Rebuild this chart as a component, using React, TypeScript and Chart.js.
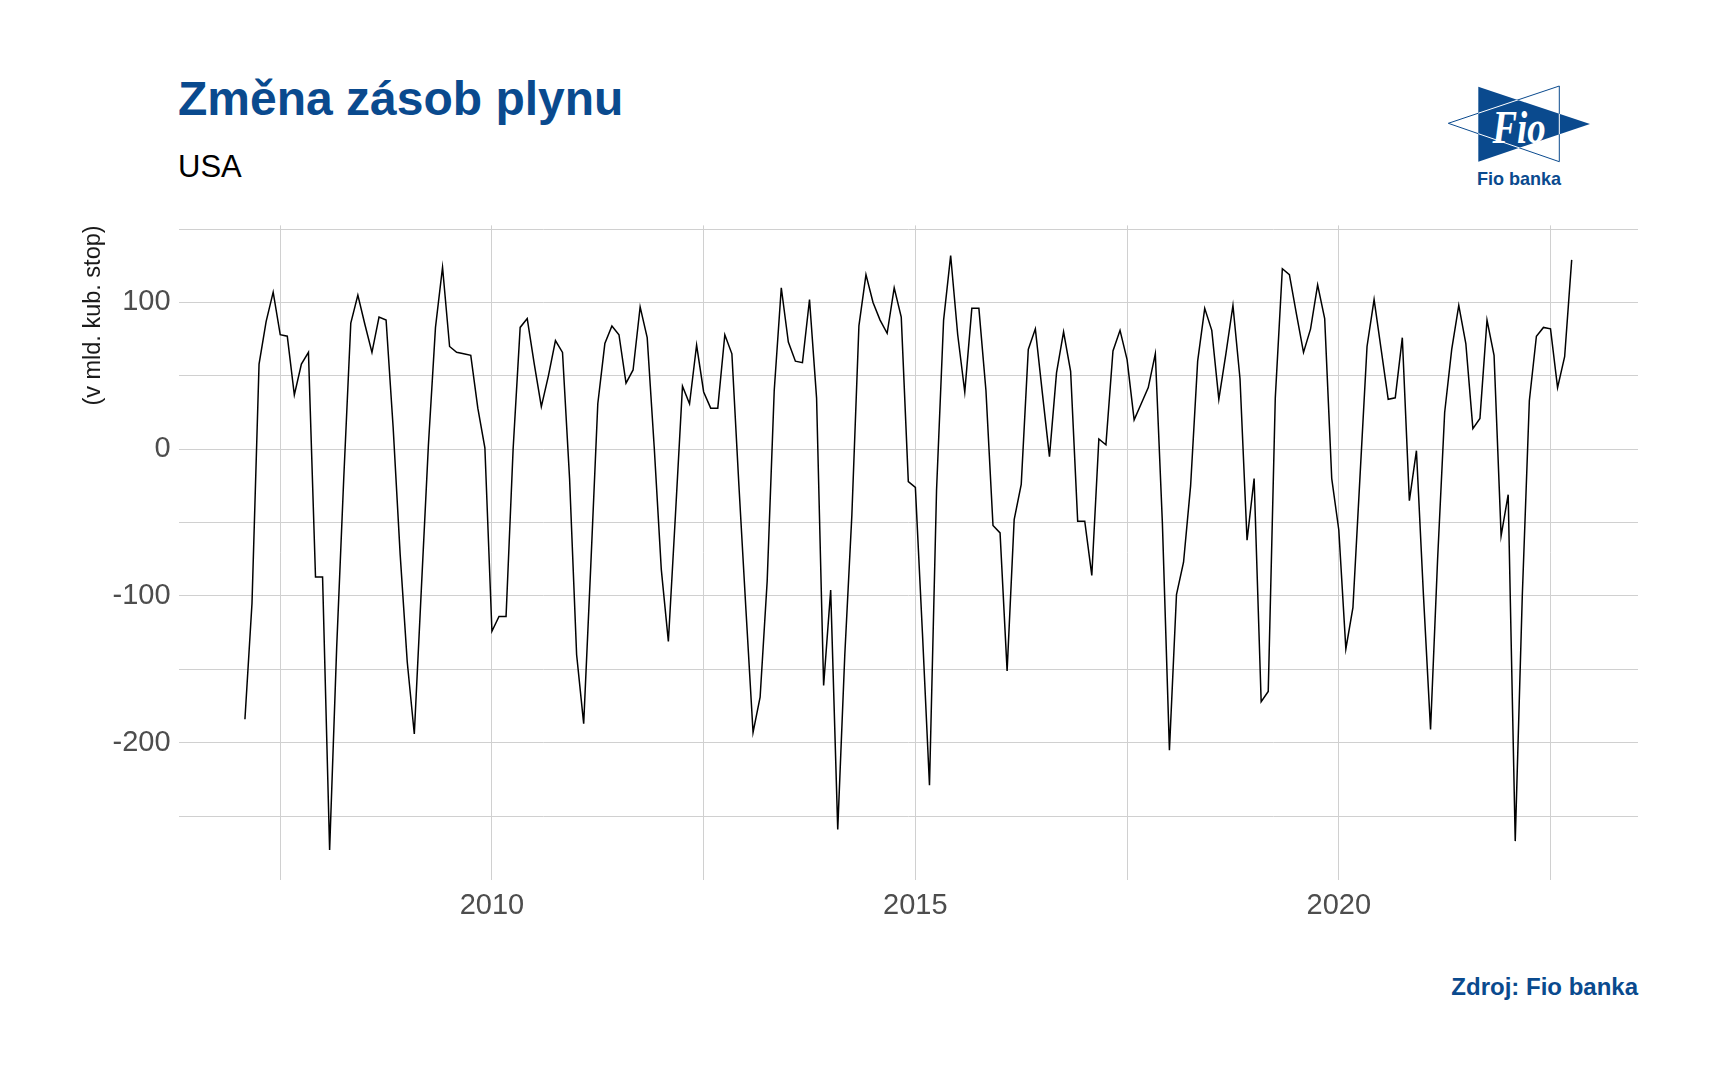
import React, { useEffect, useRef } from "react";
import { Chart, registerables } from "chart.js";

Chart.register(...registerables);

const TITLE = "Změna zásob plynu";
const SUBTITLE = "USA";
const Y_TITLE = "(v mld. kub. stop)";
const CAPTION = "Zdroj: Fio banka";
const LOGO_TEXT = "Fio";
const LOGO_CAPTION = "Fio banka";

// Monthly change of US natural gas storage (bcf), series starts February 2007
const START_MONTH_2007 = 2;
const change2007 = [-184, -105, 58, 87, 107, 78, 77, 37, 58, 66, -87];
const change2008 = [-87, -273, -135, -20, 86, 105, 85, 66, 90, 88, 15, -72];
const change2009 = [-145, -194, -95, 3, 83, 124, 70, 66, 65, 64, 28, 1];
const change2010 = [-124, -114, -114, 0, 83, 89, 58, 29, 50, 74, 66, -20];
const change2011 = [-140, -187, -80, 31, 72, 84, 78, 45, 54, 97, 76, 1];
const change2012 = [-82, -131, -45, 43, 31, 71, 39, 28, 28, 78, 65, -25];
const change2013 = [-110, -193, -169, -90, 40, 110, 73, 60, 59, 102, 35, -161];
const change2014 = [-96, -259, -140, -45, 84, 119, 100, 88, 79, 110, 90, -22];
const change2015 = [-26, -125, -229, -28, 88, 132, 78, 39, 96, 96, 40, -52];
const change2016 = [-57, -151, -48, -24, 68, 82, 38, -5, 52, 80, 53, -49];
const change2017 = [-49, -86, 7, 3, 67, 81, 61, 20, 31, 42, 65, -50];
const change2018 = [-205, -99, -77, -25, 60, 96, 81, 34, 65, 98, 48, -62];
const change2019 = [-20, -172, -165, 35, 123, 119, 92, 66, 82, 112, 89, -20];
const change2020 = [-55, -136, -108, -19, 70, 102, 68, 34, 35, 76, -35, -1];
const change2021 = [-100, -191, -75, 25, 68, 98, 72, 14, 21, 88, 64, -59];
const change2022 = [-31, -267, -100, 33, 77, 83, 82, 42, 63, 129];

const yearSeries: [number, number, number[]][] = [
  [2007, START_MONTH_2007, change2007],
  [2008, 1, change2008],
  [2009, 1, change2009],
  [2010, 1, change2010],
  [2011, 1, change2011],
  [2012, 1, change2012],
  [2013, 1, change2013],
  [2014, 1, change2014],
  [2015, 1, change2015],
  [2016, 1, change2016],
  [2017, 1, change2017],
  [2018, 1, change2018],
  [2019, 1, change2019],
  [2020, 1, change2020],
  [2021, 1, change2021],
  [2022, 1, change2022],
];

const X_MIN = 2006.3;
const X_MAX = 2023.533;
const Y_MIN = -293.5;
const Y_MAX = 152.5;
const xGridTicks = [2007.5, 2010, 2012.5, 2015, 2017.5, 2020, 2022.5];
const xLabelTicks = [2010, 2015, 2020];
const yGridTicks = [-250, -200, -150, -100, -50, 0, 50, 100, 150];
const yLabelTicks = [-200, -100, 0, 100];

const BLUE = "#0a4a8e";
const FONT = "'Liberation Sans', Arial, Helvetica, sans-serif";

const points = yearSeries.flatMap(([year, startMonth, vals]) =>
  vals.map((v, i) => ({ x: year + (startMonth - 1 + i) / 12, y: v }))
);

function Logo() {
  return (
    <svg
      style={{ position: "absolute", left: 1440, top: 78, width: 160, height: 115 }}
      viewBox="1440 78 160 115"
    >
      <defs>
        <clipPath id="rtri">
          <polygon points="1478.3,86.7 1478.3,161.7 1590,124" />
        </clipPath>
      </defs>
      <polygon points="1478.3,86.7 1478.3,161.7 1590,124" fill={BLUE} />
      <polygon points="1448.3,123.3 1559.3,86 1559.3,161.7" fill="none" stroke={BLUE} strokeWidth={1} />
      <polygon
        points="1448.3,123.3 1559.3,86 1559.3,161.7"
        fill="none"
        stroke="#ffffff"
        strokeWidth={1}
        clipPath="url(#rtri)"
      />
      <text
        x={1519}
        y={143}
        fill="#ffffff"
        textAnchor="middle"
        fontFamily="'Liberation Serif', 'DejaVu Serif', serif"
        fontSize={46}
        fontWeight="bold"
        fontStyle="italic"
        transform="translate(1519 0) scale(0.8 1) translate(-1519 0)"
      >
        {LOGO_TEXT}
      </text>
      <text
        x={1519}
        y={185}
        fill={BLUE}
        textAnchor="middle"
        fontFamily={FONT}
        fontWeight="bold"
        fontSize={19}
        transform="translate(1519 0) scale(0.95 1) translate(-1519 0)"
      >
        {LOGO_CAPTION}
      </text>
    </svg>
  );
}

export default function App() {
  const canvasRef = useRef<HTMLCanvasElement>(null);

  useEffect(() => {
    const canvas = canvasRef.current;
    if (!canvas) return;
    const chart = new Chart(canvas, {
      type: "line",
      data: {
        datasets: [
          {
            data: points,
            borderColor: "#000000",
            borderWidth: 1.5,
            pointRadius: 0,
            tension: 0,
            fill: false,
          },
        ],
      },
      options: {
        animation: false,
        responsive: false,
        maintainAspectRatio: false,
        devicePixelRatio: 1,
        layout: { padding: { top: 22, right: 22, left: 0, bottom: 0 } },
        plugins: { legend: { display: false }, tooltip: { enabled: false } },
        scales: {
          x: {
            type: "linear",
            min: X_MIN,
            max: X_MAX,
            afterBuildTicks: (s: any) => {
              s.ticks = xGridTicks.map((v) => ({ value: v }));
            },
            afterFit: (s: any) => {
              s.height = 60;
            },
            grid: { color: "#d0d0d0", lineWidth: 1, drawTicks: false },
            border: { display: false },
            ticks: {
              autoSkip: false,
              maxRotation: 0,
              padding: 9,
              color: "#4d4d4d",
              font: { family: FONT, size: 29 },
              callback: (v: any) => (xLabelTicks.includes(Number(v)) ? String(v) : ""),
            },
          },
          y: {
            type: "linear",
            min: Y_MIN,
            max: Y_MAX,
            afterBuildTicks: (s: any) => {
              s.ticks = yGridTicks.map((v) => ({ value: v }));
            },
            afterFit: (s: any) => {
              s.width = 178.6;
            },
            grid: { color: "#d0d0d0", lineWidth: 1, drawTicks: false },
            border: { display: false },
            ticks: {
              autoSkip: false,
              padding: 8,
              color: "#4d4d4d",
              font: { family: FONT, size: 29 },
              callback: (v: any) => (yLabelTicks.includes(Number(v)) ? String(v) : ""),
            },
            title: {
              display: true,
              text: Y_TITLE,
              align: "end",
              color: "#1a1a1a",
              font: { family: FONT, size: 23.5 },
              padding: { top: 79, bottom: 0 },
            },
          },
        },
      },
    });
    return () => chart.destroy();
  }, []);

  return (
    <div
      style={{
        position: "absolute",
        left: 0,
        top: 0,
        width: 1718,
        height: 1078,
        background: "#ffffff",
        overflow: "hidden",
        fontFamily: FONT,
      }}
    >
      <div
        style={{
          position: "absolute",
          left: 178,
          top: 75.4,
          fontSize: 48,
          lineHeight: "48px",
          fontWeight: "bold",
          color: BLUE,
          whiteSpace: "nowrap",
        }}
      >
        {TITLE}
      </div>
      <div
        style={{
          position: "absolute",
          left: 178,
          top: 151.3,
          fontSize: 31,
          lineHeight: "31px",
          color: "#000000",
          whiteSpace: "nowrap",
        }}
      >
        {SUBTITLE}
      </div>
      <Logo />
      <canvas
        ref={canvasRef}
        width={1660}
        height={740}
        style={{ position: "absolute", left: 0, top: 200, width: 1660, height: 740 }}
      />
      <div
        style={{
          position: "absolute",
          right: 1718 - 1638,
          top: 974.5,
          fontSize: 24,
          lineHeight: "24px",
          fontWeight: "bold",
          color: BLUE,
          whiteSpace: "nowrap",
        }}
      >
        {CAPTION}
      </div>
    </div>
  );
}
